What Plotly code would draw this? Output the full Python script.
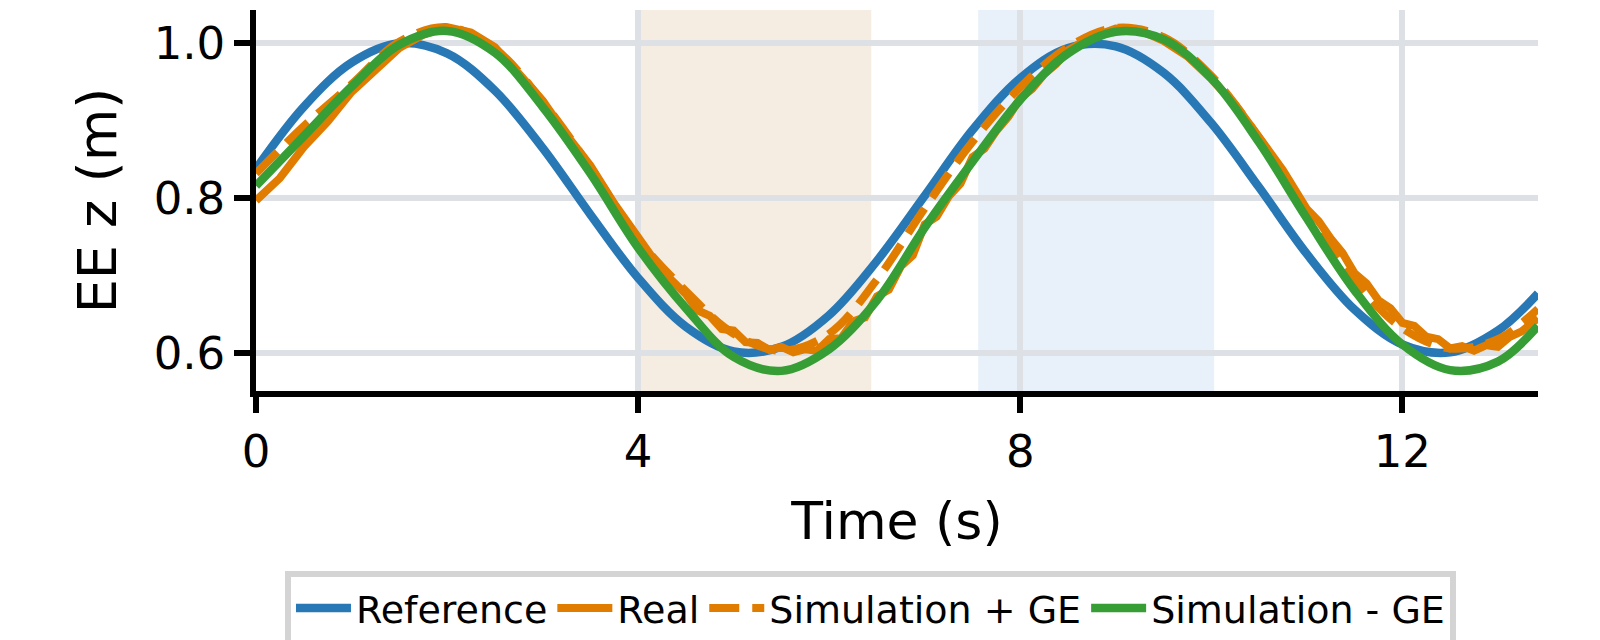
import plotly.graph_objs as go

# time axis (s) for the smooth curves, and a finer one for the noisy real trace
t = [0.0, 0.5, 1.0, 1.5, 2.0, 2.5, 3.0, 3.5, 4.0, 4.5, 5.0, 5.5, 6.0, 6.5,
     7.0, 7.5, 8.0, 8.5, 9.0, 9.5, 10.0, 10.5, 11.0, 11.5, 12.0, 12.5, 13.0, 13.42]

reference = [0.838, 0.918, 0.975, 1.000, 0.987, 0.939, 0.865, 0.779, 0.697, 0.634,
             0.602, 0.608, 0.649, 0.719, 0.803, 0.888, 0.955, 0.994, 0.996, 0.962,
             0.897, 0.814, 0.728, 0.656, 0.611, 0.601, 0.629, 0.677]

sim_ge = [0.832, 0.893, 0.947, 1.002, 1.021, 0.993, 0.925, 0.840, 0.747, 0.680,
          0.625, 0.603, 0.625, 0.695, 0.787, 0.873, 0.943, 0.995, 1.020, 1.008,
          0.958, 0.878, 0.783, 0.694, 0.632, 0.606, 0.618, 0.657]

sim_no_ge = [0.816, 0.880, 0.944, 0.998, 1.016, 0.988, 0.918, 0.832, 0.736, 0.658,
             0.595, 0.577, 0.605, 0.668, 0.762, 0.847, 0.927, 0.987, 1.015, 1.005,
             0.955, 0.872, 0.774, 0.681, 0.611, 0.578, 0.589, 0.635]

t_real = [0.0, 0.25, 0.5, 0.75, 1.0, 1.25, 1.5, 1.75, 2.0, 2.25, 2.5, 2.75, 3.0, 3.25,
          3.5, 3.75, 4.0, 4.25,
          4.5, 4.625, 4.75, 4.875, 5.0, 5.125, 5.25, 5.375, 5.5, 5.625, 5.75, 5.875,
          6.0, 6.125, 6.25, 6.375, 6.5, 6.625, 6.75, 6.875, 7.0, 7.125, 7.25, 7.375,
          7.5, 7.625, 7.75, 7.875, 8.0, 8.125, 8.25, 8.375, 8.5,
          8.75, 9.0, 9.25, 9.5, 9.75, 10.0, 10.25, 10.5, 10.75,
          11.0, 11.125, 11.25, 11.375, 11.5, 11.625, 11.75, 11.875, 12.0, 12.125,
          12.25, 12.375, 12.5, 12.625, 12.75, 12.875, 13.0, 13.125, 13.25, 13.42]

real = [0.797, 0.826, 0.866, 0.899, 0.937, 0.964, 0.994, 1.011, 1.021, 1.014, 0.995,
        0.961, 0.926, 0.882, 0.842, 0.793, 0.751, 0.706,
        0.676, 0.655, 0.648, 0.631, 0.629, 0.614, 0.613, 0.604, 0.608, 0.601, 0.605, 0.603,
        0.618, 0.619, 0.641, 0.646, 0.673, 0.682, 0.712, 0.726, 0.766, 0.776, 0.802, 0.819,
        0.853, 0.864, 0.887, 0.905, 0.929, 0.941, 0.960, 0.973, 0.991,
        1.008, 1.019, 1.017, 1.003, 0.983, 0.954, 0.921, 0.879, 0.836,
        0.786, 0.770, 0.748, 0.729, 0.703, 0.690, 0.668, 0.658, 0.639, 0.635,
        0.621, 0.618, 0.606, 0.609, 0.603, 0.610, 0.608, 0.621, 0.628, 0.645]

# highlighted time windows (s)
spans = [(3.97, 6.44, "#f5ece2"), (7.56, 10.03, "#e8f1f9")]

blue = "#2878b5"
orange = "#e07c00"
green = "#369e35"
font = "DejaVu Sans"

fig = go.Figure()
fig.add_trace(go.Scatter(x=t, y=reference, name="Reference", mode="lines",
                         line=dict(color=blue, width=8.5, shape="spline")))
fig.add_trace(go.Scatter(x=t_real, y=real, name="Real", mode="lines",
                         line=dict(color=orange, width=8)))
fig.add_trace(go.Scatter(x=t, y=sim_ge, name="Simulation + GE", mode="lines",
                         line=dict(color=orange, width=8, dash="30px,13px", shape="spline")))
fig.add_trace(go.Scatter(x=t, y=sim_no_ge, name="Simulation - GE", mode="lines",
                         line=dict(color=green, width=8.5, shape="spline")))

for x0, x1, c in spans:
    fig.add_shape(type="rect", xref="x", yref="paper", x0=x0, x1=x1, y0=0, y1=1,
                  fillcolor=c, line=dict(width=0), layer="below")

axis = dict(showline=True, linecolor="black", linewidth=5.5, ticks="outside",
            ticklen=16, tickwidth=5.5, tickcolor="black", showgrid=True,
            gridcolor="#dde1e6", gridwidth=5.5, zeroline=False,
            tickfont=dict(family=font, size=45, color="black"))

fig.update_xaxes(axis, range=[0, 13.42], tickvals=[0, 4, 8, 12],
                 title=dict(text="Time (s)", font=dict(family=font, size=52, color="black"),
                            standoff=28))
fig.update_yaxes(axis, range=[0.551, 1.043], tickvals=[0.6, 0.8, 1.0], tickformat=".1f",
                 title=dict(text="EE z (m)", font=dict(family=font, size=54, color="black"),
                            standoff=22))

# the page adds an 8px body margin, so the figure is a little smaller than the window
fig.update_layout(
    width=1592, height=632,
    margin=dict(l=248, r=62, t=2, b=249, autoexpand=False),
    plot_bgcolor="white", paper_bgcolor="white",
    font=dict(family=font, color="black"),
    legend=dict(orientation="h", x=0.0226, xanchor="left", y=-0.472, yanchor="top",
                font=dict(family=font, size=38, color="black"),
                bordercolor="#d4d4d4", borderwidth=6, bgcolor="white",
                itemwidth=55, tracegroupgap=0),
)

fig.write_html("out.html")
